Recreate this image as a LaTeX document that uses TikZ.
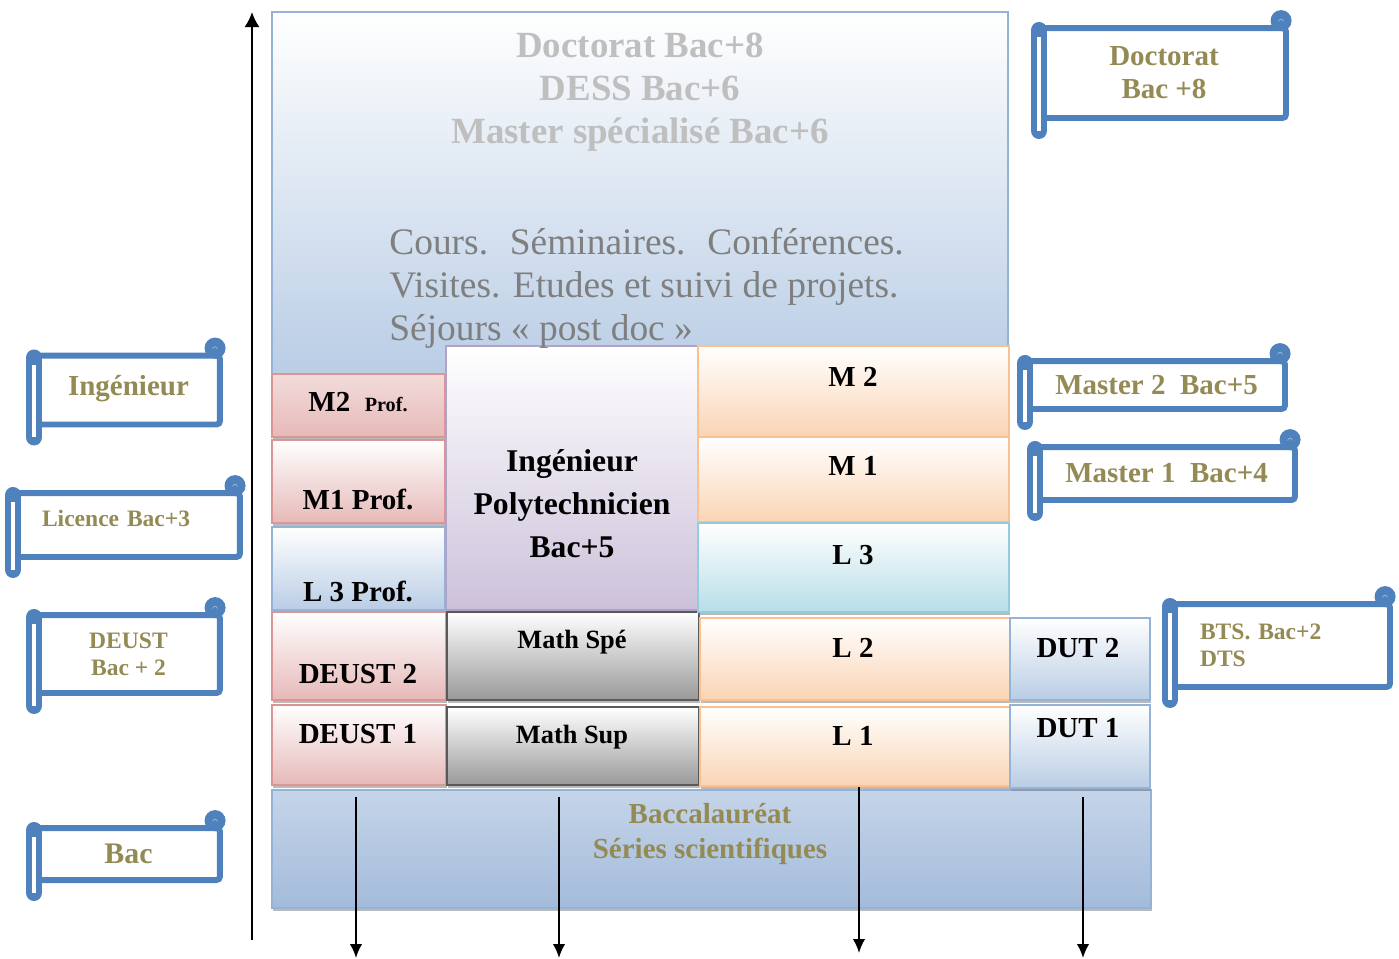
\documentclass[tikz,border=0pt]{standalone}
\usepackage{fontspec}
\setmainfont{Liberation Serif}
\usetikzlibrary{arrows.meta,fit,shadows}
\definecolor{scrollblue}{HTML}{4F81BD}
\definecolor{labelgold}{HTML}{948A54}
\definecolor{topgray}{HTML}{BFBFBF}
\definecolor{coursgray}{HTML}{7F7F7F}
\definecolor{blueline}{HTML}{95B3D7}
\definecolor{bluefill}{HTML}{B9CDE5}
\definecolor{baclight}{HTML}{DCE6F2}
\definecolor{bacdark}{HTML}{A3BBDB}
\definecolor{pinkline}{HTML}{D99694}
\definecolor{pinkfill}{HTML}{E6B9B8}
\definecolor{lilacline}{HTML}{B3A2C7}
\definecolor{lilacfill}{HTML}{CCC1DA}
\definecolor{orangeline}{HTML}{FAC090}
\definecolor{orangefill}{HTML}{FAD4B4}
\definecolor{tealline}{HTML}{93CDDD}
\definecolor{tealfill}{HTML}{B7DEE8}
\definecolor{grayline}{HTML}{595959}
\definecolor{grayfill}{HTML}{999999}
\tikzset{
  cell/.style={inner sep=0pt, line width=1.1pt,
    drop shadow={shadow xshift=0.6pt, shadow yshift=-1.7pt, fill=black!45, opacity=.6}},
  bigbox/.style={draw=blueline, top color=white, bottom color=bluefill},
  bacbox/.style={draw=blueline, top color=baclight!60!bacdark, middle color=baclight, bottom color=bacdark},
  pinktop/.style={draw=pinkline, top color=pinkfill!50, bottom color=pinkfill},
  pinkcell/.style={draw=pinkline, top color=white, bottom color=pinkfill},
  bluecell/.style={draw=blueline, top color=white, bottom color=bluefill},
  lilaccell/.style={draw=lilacline, top color=white, bottom color=lilacfill},
  graycell/.style={draw=grayline, top color=white, bottom color=grayfill},
  orangecell/.style={draw=orangeline, top color=white, bottom color=orangefill},
  tealcell/.style={draw=tealline, top color=white, bottom color=tealfill},
  celltext/.style={font=\fontsize{16.5}{19}\selectfont\bfseries},
  scroll/.style={draw=scrollblue, line width=3.4pt, rounded corners=2pt, fill=white, text=labelgold,
    align=center, inner sep=2pt, font=\fontsize{16.5}{18.7}\selectfont\bfseries},
  smallscroll/.style={font=\fontsize{13.4}{15.5}\selectfont\bfseries},
  levelarrow/.style={line width=1.1pt, -{Latex[length=2.8mm,width=2.5mm]}},
}
\begin{document}
\begin{tikzpicture}[x=0.02cm, y=-0.02cm]
\useasboundingbox (0,0) rectangle (1399,958);
\foreach \n/\s/\xa/\ya/\xb/\yb in {big/bigbox/272/12/1008/375, bac/bacbox/272/790/1151/908,
    mtwop/pinktop/272/374/445/437, monep/pinkcell/272/440/445/523, lthreep/bluecell/272/527/445/610,
    deusttwo/pinkcell/272/612/446/700, deustone/pinkcell/272/705/446/785,
    poly/lilaccell/446/346/698/610, mspe/graycell/447/612/699/700, msup/graycell/447/707/699/785,
    mtwo/orangecell/698/346/1009/437, mone/orangecell/698/437/1009/522, lthree/tealcell/698/523/1009/612,
    ltwo/orangecell/700/618/1010/700, lone/orangecell/700/707/1010/786,
    duttwo/bluecell/1010/618/1150/700, dutone/bluecell/1010/705/1150/788}
    \node[cell, \s, fit={(\xa,\ya) (\xb,\yb)}] (\n) {};
\node[font=\fontsize{21}{24.4}\selectfont\bfseries, text=topgray, align=center] (tdoc) at (640,92)
    {Doctorat Bac+8\\DESS Bac+6\\Master spécialisé Bac+6};
\node[font=\fontsize{21.3}{24.4}\selectfont, text=coursgray, align=left, anchor=west, inner sep=0pt] (tcours) at (389,288)
    {Cours.~ Séminaires.~ Conférences.\\Visites. Etudes et suivi de projets.\\Séjours « post doc »};
\foreach \n/\x/\y/\t in {tmtwop/358/402/{M2~ {\fontsize{11.5}{13}\selectfont Prof.}}, tmonep/358/499/{M1 Prof.},
    tlthreep/358/591/{L 3 Prof.}, tdeusttwo/358/674/{DEUST 2}, tdeustone/358/734/{DEUST 1},
    tmtwo/853/377/{M 2}, tmone/853/466/{M 1}, tlthree/853/555/{L 3}, tltwo/853/648/{L 2},
    tlone/853/736/{L 1}, tduttwo/1078/648/{DUT 2}, tdutone/1078/728/{DUT 1}}
    \node[celltext] (\n) at (\x,\y) {\t};
\node[font=\fontsize{18}{24.4}\selectfont\bfseries, align=center] (tpoly) at (572,504)
    {Ingénieur\\Polytechnicien\\Bac+5};
\node[celltext, font=\fontsize{15}{17}\selectfont\bfseries] (tmspe) at (572,642) {Math Spé};
\node[celltext, font=\fontsize{15}{17}\selectfont\bfseries] (tmsup) at (572,737) {Math Sup};
\node[font=\fontsize{16.5}{20}\selectfont\bfseries, text=labelgold, align=center] (tbac) at (710,834)
    {Baccalauréat\\Séries scientifiques};
\node[scroll, minimum width=4.88cm, minimum height=1.8cm] (sdoc) at (1164,73) {Doctorat\\Bac +8};
\node[scroll, minimum width=3.66cm, minimum height=1.38cm] (sing) at (128.5,390) {\raisebox{5pt}{Ingénieur}};
\node[scroll, smallscroll, minimum width=4.48cm, minimum height=1.28cm, inner xsep=0.52cm, text width=3.44cm, align=left]
    (slic) at (128,525) {\raisebox{8pt}{Licence Bac+3}};
\node[scroll, minimum width=3.66cm, minimum height=1.56cm, smallscroll] (sdeust) at (128.5,654) {DEUST\\Bac + 2};
\node[scroll, minimum width=3.66cm, minimum height=1.04cm, font=\fontsize{17}{19}\selectfont\bfseries] (sbac) at (128.5,854) {Bac};
\node[scroll, minimum width=5.14cm, minimum height=0.96cm] (smtwo) at (1156.5,385) {Master 2~~Bac+5};
\node[scroll, minimum width=5.14cm, minimum height=1.06cm] (smone) at (1166.5,473.5) {Master 1~~Bac+4};
\node[scroll, smallscroll, minimum width=4.34cm, minimum height=1.66cm, inner xsep=0.54cm, text width=3.26cm, align=left]
    (sbts) at (1281.5,645.5) {BTS. Bac+2\\DTS};
\foreach \s in {sdoc, sing, slic, sdeust, sbac, smtwo, smone, sbts} {
    \draw[scrollblue, line width=9.5pt, line cap=round]
        ([yshift=-3pt]\s.north west) -- ([yshift=-5.5pt]\s.south west);
    \draw[white, line width=1.8pt] ([yshift=-7pt]\s.north west) -- ([yshift=-5.5pt]\s.south west);
    \fill[scrollblue] ([xshift=-4.5pt, yshift=2.5pt]\s.north east) circle (6pt);
    \draw[scrollblue!55!white, line width=0.4pt] ([xshift=-5.8pt, yshift=2pt]\s.north east) arc (180:0:1.3pt);
}
\foreach \k/\x/\ya/\yb in {1/356/797/958, 2/559/797/958, 3/859/787/953, 4/1083/797/958} {
    \coordinate (from\k) at (\x,\ya);
    \coordinate (to\k) at (\x,\yb);
    \draw[levelarrow] (from\k) -- (to\k);
}
\coordinate (axisfoot) at (252,940);
\coordinate (axistop) at (252,12);
\draw[line width=1.1pt, -{Latex[length=3mm,width=3mm]}] (axisfoot) -- (axistop);
\end{tikzpicture}
\end{document}
